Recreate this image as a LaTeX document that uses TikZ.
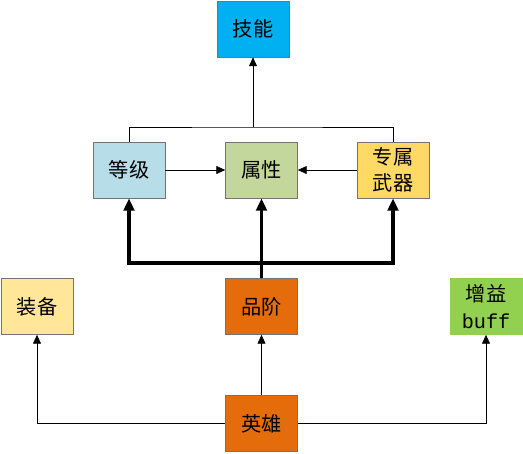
\documentclass[tikz,border=0pt]{standalone}
\usepackage{fontspec}
\newfontfamily\cjk{Noto Sans CJK SC}
\newfontfamily\mono{Liberation Mono}
\usetikzlibrary{arrows.meta}
\definecolor{blau}{HTML}{00B0F0}
\definecolor{hellblau}{HTML}{B7DDE8}
\definecolor{oliv}{HTML}{C3D69B}
\definecolor{gold}{HTML}{FFD966}
\definecolor{sand}{HTML}{FFE699}
\definecolor{orange}{HTML}{E46C0A}
\definecolor{gruen}{HTML}{92D050}
\begin{document}
\begin{tikzpicture}
[x=0.02cm,y=-0.02cm,
kasten/.style={draw=black!55,minimum width=1.44cm,minimum height=1.12cm,inner sep=1pt,
  font=\cjk\fontsize{11.5}{15}\selectfont,align=center},
pfeil/.style={-{Triangle[length=5pt,width=4.5pt]}},
dick/.style={line width=1.8pt,-{Triangle[length=7pt,width=6pt]}},
]
\useasboundingbox (0,0) rectangle (523,453);

\node[kasten,fill=blau] (jineng) at (253,29){技能};
\node[kasten,fill=hellblau] (dengji) at (129,170){等级};
\node[kasten,fill=oliv] (shuxing) at (261.5,170){属性};
\node[kasten,fill=gold] (zhuanshu) at (393,170){专属\\武器};
\node[kasten,fill=sand] (zhuangbei) at (37,306.5){装备};
\node[kasten,fill=orange] (pinjie) at (261.5,306.5){品阶};
\node[kasten,fill=gruen,draw=gruen] (zengyi) at (486,306.5){增益\\{\mono buff}};
\node[kasten,fill=orange] (yingxiong) at (261.5,423.5){英雄};

\coordinate (oben) at (253,127);
\coordinate (knick) at (261.5,263);

% oben
\draw (dengji.north) |- (oben) -| (zhuanshu.north);
\draw[pfeil] (oben) -- (jineng.south);
\draw[pfeil] (dengji.east) -- (shuxing.west);
\draw[pfeil] (zhuanshu.west) -- (shuxing.east);

% dicke Pfeile
\draw[dick] (pinjie.north) -- (shuxing.south);
\draw[dick] (knick) -| (dengji.south);
\draw[dick] (knick) -| (zhuanshu.south);

% unten
\draw[pfeil] (yingxiong.north) -- (pinjie.south);
\draw[pfeil] (yingxiong.west) -| (zhuangbei.south);
\draw[pfeil] (yingxiong.east) -| (zengyi.south);
\end{tikzpicture}
\end{document}
